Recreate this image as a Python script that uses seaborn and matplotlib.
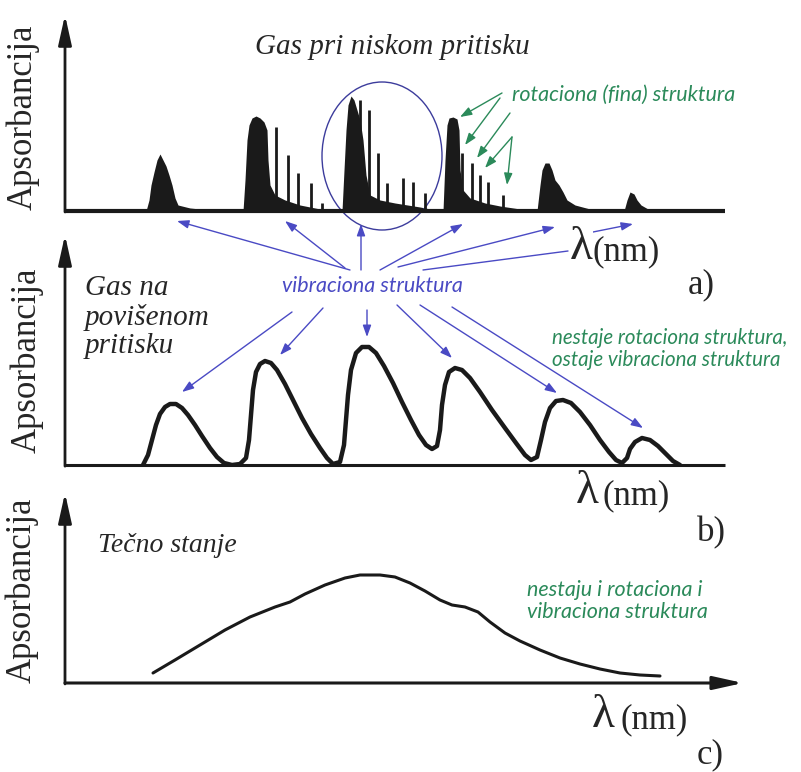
import numpy as np
import pandas as pd
import matplotlib.pyplot as plt
import seaborn as sns
from matplotlib.patches import Ellipse

# figure size in pixels (dpi 100)
W, H = 801, 772

# ---- panel a: gas at low pressure (band envelopes + rotational lines) ----
# x = wavelength (arbitrary units), y = absorbance (arbitrary units)
band1_x = [81, 84, 86, 89, 92, 95, 98, 101, 104, 107, 110, 113, 125, 135, 145]
band1_y = [0, 11, 26, 39, 51, 57, 51, 45, 36, 26, 13, 6, 3, 2, 0]
band2_x = [178, 180, 182, 184, 187, 191, 195, 199, 202, 203, 205, 210, 220, 235, 250, 265]
band2_y = [0, 31, 71, 86, 93, 95, 93, 89, 81, 51, 26, 16, 11, 6, 3, 0]
band3_x = [277, 279, 281, 283, 286, 289, 292, 295, 298, 301, 305, 315, 330, 355, 375]
band3_y = [0, 41, 81, 106, 115, 111, 101, 91, 71, 36, 16, 11, 8, 4, 0]
band4_x = [378, 380, 382, 384, 388, 392, 394, 395, 398, 405, 420, 435, 455, 475]
band4_y = [0, 51, 86, 93, 94, 92, 81, 41, 21, 13, 8, 5, 2, 0]
band5_x = [472, 475, 477, 480, 484, 487, 490, 494, 498, 502, 510, 525, 535]
band5_y = [0, 26, 41, 48, 48, 41, 31, 26, 19, 11, 6, 2, 0]
band6_x = [559, 562, 565, 569, 572, 576, 583, 590]
band6_y = [0, 11, 19, 17, 11, 6, 2, 0]

lines_x = [211, 223, 233, 246, 257,
           295, 304, 313, 322, 338, 348, 360,
           397, 407, 415, 423, 438]
lines_y = [84, 56, 38, 28, 8,
           111, 101, 58, 28, 33, 29, 18,
           58, 48, 36, 29, 16]

# ---- panel b: gas at higher pressure (vibrational bands only) ----
lam_b = [78, 83, 87, 91, 95, 100, 105, 111, 117, 123, 130, 137, 145, 152, 159, 167, 175, 181,
         184, 186, 188, 191, 195, 200, 206, 212, 220, 228, 237, 246, 255, 262, 268, 275,
         279, 281, 283, 286, 291, 297, 304, 311, 319, 328, 337, 346, 354, 361, 367, 372,
         375, 377, 380, 384, 390, 397, 405, 415, 427, 440, 451, 460, 466, 472,
         476, 480, 485, 491, 498, 506, 515, 525, 535, 544, 551, 557, 562,
         565, 570, 577, 585, 593, 601, 608, 615]
abs_b = [0, 10, 25, 40, 51, 58, 61, 61, 57, 50, 40, 29, 17, 8, 2, 0, 1, 7,
         25, 50, 75, 93, 101, 104, 102, 95, 81, 65, 47, 31, 17, 7, 1, 3,
         20, 45, 70, 95, 112, 118, 118, 112, 99, 82, 63, 45, 30, 20, 16, 19,
         35, 60, 80, 93, 97, 95, 87, 73, 55, 37, 22, 10, 5, 8,
         25, 43, 57, 64, 65, 62, 53, 40, 25, 13, 5, 2, 7,
         16, 23, 27, 25, 19, 11, 4, 0]

# ---- panel c: liquid state (one broad band) ----
lam_c = [88, 110, 135, 160, 185, 210, 225, 240, 260, 280, 295, 315, 330, 345, 360,
         375, 387, 400, 413, 425, 440, 455, 475, 495, 515, 535, 555, 575, 595]
abs_c = [10, 23, 38, 53, 66, 76, 81, 89, 98, 105, 108, 108, 106, 100, 92,
         83, 78, 76, 71, 61, 50, 42, 33, 25, 19, 14, 10, 8, 7]

sns.set_theme(style="white")
plt.rcParams['font.family'] = ['Liberation Serif', 'DejaVu Serif']

BLUE = '#4a4ac4'
GREEN = '#2b8a5a'


def fpx(x, y):
    # pixel position -> figure fraction
    return (x / W, 1 - y / H)


def draw_axes(ax, xmax, ymax, x_arrow, base_lw):
    ax.set_xlim(0, xmax)
    ax.set_ylim(0, ymax)
    ax.axis('off')
    head = '-|>,head_length=0.9,head_width=0.2'
    ax.annotate('', xy=(0, 1), xytext=(0, -0.005), xycoords='axes fraction',
                arrowprops=dict(arrowstyle=head, lw=2, color='k', mutation_scale=20,
                                shrinkA=0, shrinkB=0), annotation_clip=False)
    if x_arrow:
        ax.annotate('', xy=(1, 0), xytext=(0, 0), xycoords='axes fraction',
                    arrowprops=dict(arrowstyle=head, lw=base_lw, color='k', mutation_scale=20,
                                    shrinkA=0, shrinkB=0), annotation_clip=False)
    else:
        ax.plot([0, 1], [0, 0], transform=ax.transAxes, color='k', lw=base_lw,
                clip_on=False, solid_capstyle='butt')


fig = plt.figure(figsize=(W / 100, H / 100), dpi=100)
fig.patch.set_facecolor('white')

ax_a = fig.add_axes([65 / W, 1 - 211 / H, 660 / W, 196 / H])
ax_b = fig.add_axes([65 / W, 1 - 465 / H, 660 / W, 230 / H])
ax_c = fig.add_axes([65 / W, 1 - 683 / H, 678 / W, 190 / H])

draw_axes(ax_a, 660, 196, False, 3)
draw_axes(ax_b, 660, 230, False, 2.2)
draw_axes(ax_c, 678, 190, True, 2.2)

# panel a spectrum
for bx, by in [(band1_x, band1_y), (band2_x, band2_y), (band3_x, band3_y),
               (band4_x, band4_y), (band5_x, band5_y), (band6_x, band6_y)]:
    ax_a.fill_between(bx, 0, by, color='k', lw=0)
ax_a.vlines(lines_x, 0, lines_y, color='k', lw=2)
ax_a.add_patch(Ellipse((317, 55), 120, 148, fill=False, ec='#3c3c9c', lw=1, clip_on=False))

# panel b, c curves
sns.lineplot(x=lam_b, y=abs_b, ax=ax_b, color='k', lw=3.2, estimator=None, sort=False)
sns.lineplot(x=lam_c, y=abs_c, ax=ax_c, color='k', lw=2.2, estimator=None, sort=False)
for ax in (ax_a, ax_b, ax_c):
    ax.axis('off')

# y labels
for (x, y) in [(23, 117), (27, 360), (22, 590)]:
    fig.text(*fpx(x, y), 'Apsorbancija', rotation=90, fontsize=25,
             ha='center', va='center')

# x labels and panel letters
for (lx, ly, nx, let, letx, lety) in [(570, 248, 592, 'a)', 688, 285),
                                      (576, 492, 603, 'b)', 697, 533),
                                      (592, 716, 620, 'c)', 697, 755)]:
    fig.text(*fpx(lx, ly), 'λ', fontsize=34, ha='left', va='center',
             bbox=dict(fc='white', ec='none', pad=0), zorder=5)
    fig.text(*fpx(nx, ly + 4), '(nm)', fontsize=25, ha='left', va='center')
    fig.text(*fpx(letx, lety), let, fontsize=25, ha='left', va='center')

# black italic titles
fig.text(*fpx(392, 47), 'Gas pri niskom pritisku', fontsize=21, style='italic',
         ha='center', va='center')
fig.text(*fpx(85, 275), 'Gas na\npovišenom\npritisku', fontsize=21, style='italic',
         ha='left', va='top', linespacing=1.13)
fig.text(*fpx(98, 545), 'Tečno stanje', fontsize=20, style='italic',
         ha='left', va='center')

# coloured notes
note = dict(family=['Lato', 'DejaVu Sans'], style='italic', fontsize=15.5)
fig.text(*fpx(512, 95), 'rotaciona (fina) struktura', color=GREEN, ha='left', va='center', **note)
fig.text(*fpx(372, 286), 'vibraciona struktura', color=BLUE, ha='center', va='center', **note)
note_small = dict(note, fontsize=14.8)
fig.text(*fpx(552, 338), 'nestaje rotaciona struktura,', color=GREEN, ha='left', va='center', **note_small)
fig.text(*fpx(552, 360), 'ostaje vibraciona struktura', color=GREEN, ha='left', va='center', **note_small)
fig.text(*fpx(527, 590), 'nestaju i rotaciona i', color=GREEN, ha='left', va='center', **note)
fig.text(*fpx(527, 612), 'vibraciona struktura', color=GREEN, ha='left', va='center', **note)


def arrow(tail, head, color):
    ax_a.annotate('', xy=fpx(*head), xytext=fpx(*tail), xycoords='figure fraction',
                  arrowprops=dict(arrowstyle='-|>,head_length=0.7,head_width=0.25',
                                  color=color, lw=1, mutation_scale=10,
                                  shrinkA=0, shrinkB=0),
                  annotation_clip=False, zorder=4)


# blue arrows: vibrational bands
blue_arrows = [((350, 270), (177, 221)), ((345, 268), (285, 221)), ((361, 270), (361, 224)),
               ((380, 270), (463, 224)), ((398, 267), (555, 227)), ((593, 232), (633, 224)),
               ((292, 312), (182, 392)), ((323, 308), (280, 355)), ((367, 310), (367, 337)),
               ((397, 305), (452, 358)), ((420, 305), (557, 393)), ((452, 307), (643, 428))]
for t, h in blue_arrows:
    arrow(t, h, BLUE)
ax_a.plot(*zip(fpx(423, 270), fpx(568, 251)), transform=fig.transFigure, color=BLUE,
          lw=1, clip_on=False)

# green arrows: rotational lines
green_arrows = [((502, 93), (460, 117)), ((500, 98), (465, 145)), ((510, 113), (477, 158)),
                ((512, 137), (485, 168)), ((512, 137), (507, 185))]
for t, h in green_arrows:
    arrow(t, h, GREEN)

fig.savefig('out.png', dpi=100, facecolor='white')
